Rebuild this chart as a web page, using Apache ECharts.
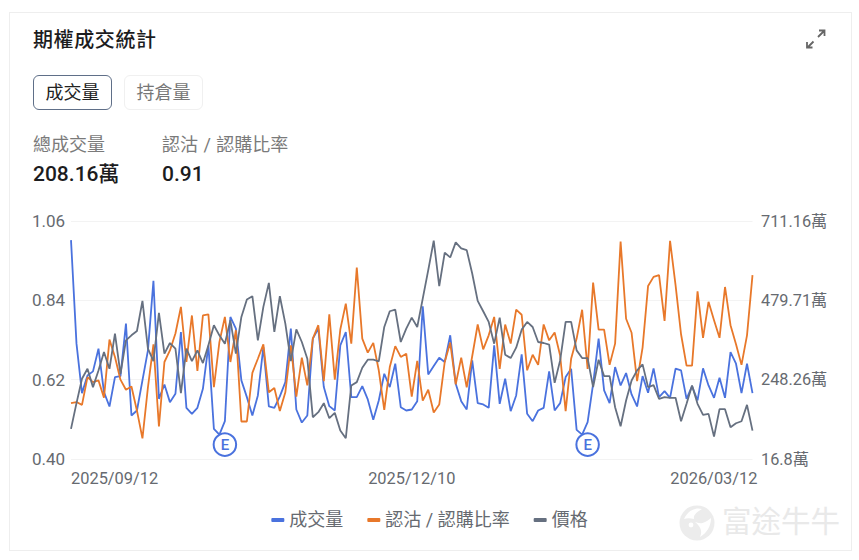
<!DOCTYPE html>
<html lang="zh-Hant">
<head>
<meta charset="utf-8">
<title>期權成交統計</title>
<script src="https://cdn.jsdelivr.net/npm/echarts@6/dist/echarts.min.js"></script>
<style>
  html, body { margin: 0; padding: 0; background: #fff; }
  body { width: 859px; height: 560px; position: relative; overflow: hidden;
         font-family: Roboto, "Noto Sans CJK TC", sans-serif; }
  .card { position: absolute; left: 9px; top: 12px; width: 841px; height: 537px;
          border: 1px solid #eeeeee; }
  #chart { position: absolute; left: 0; top: 0; width: 859px; height: 560px; }
  .abs { position: absolute; white-space: nowrap; }
  .title { left: 33px; top: 25px; font-size: 20px; line-height: 30px; font-weight: 500;
           color: #1c1c1e; letter-spacing: .6px; }
  .tab { top: 75px; height: 33px; line-height: 34px; text-align: center; font-size: 18px;
         border-radius: 6px; box-sizing: content-box; }
  .tab.on { left: 33px; width: 77px; border: 1.5px solid #5f6f88; color: #222; }
  .tab.off { left: 124px; width: 77px; border: 1.5px solid #f0f0f0; color: #777; }
  .lbl { top: 133px; font-size: 18px; line-height: 24px; color: #7a7a7a; word-spacing: 1px; }
  .val { top: 160px; font-size: 21px; line-height: 28px; font-weight: 500; color: #1c1c1e; }
  .brand { left: 722px; top: 503px; font-size: 29.5px; line-height: 38px; color: #e9e9e9; }
</style>
</head>
<body>
<div class="card"></div>
<div id="chart"></div>
<div class="abs title">期權成交統計</div>
<svg class="abs" style="left:804px;top:27px" width="24" height="24" viewBox="0 0 24 24"
     fill="none" stroke="#666" stroke-width="1.8">
  <path d="M14 10 L19.5 4.5 M15 3.5 H20.5 V9"/>
  <path d="M9.5 14.5 L3.5 20.5 M3 15 V20.5 H8.5"/>
</svg>
<div class="abs tab on">成交量</div>
<div class="abs tab off">持倉量</div>
<div class="abs lbl" style="left:33px">總成交量</div>
<div class="abs lbl" style="left:162px">認沽 / 認購比率</div>
<div class="abs val" style="left:33px">208.16萬</div>
<div class="abs val" style="left:162px">0.91</div>
<svg class="abs" style="left:678px;top:504px" width="38" height="38" viewBox="0 0 38 38">
  <circle cx="19" cy="19" r="17.5" fill="#ececec"/>
  <path d="M6 15 C10 6 18 3 24 5 C19 8 15 11 16 15 C12 14 9 14 6 15 Z" fill="#fff"/>
  <path d="M17 18 C22 20 26 20 33 14 C33 22 29 29 22 33 C25 27 22 22 17 18 Z" fill="#fff"/>
  <circle cx="13" cy="21" r="2.4" fill="#fff"/>
</svg>
<div class="abs brand">富途牛牛</div>

<script>
// Daily option statistics, oldest session first.
const holidays = ['2025/11/27', '2025/12/25', '2026/01/01', '2026/01/19', '2026/02/16'];
const firstSession = '2025/09/12';
const lastSession = '2026/03/12';
const dateTicks = ['2025/09/12', '2025/12/10', '2026/03/12'];
const ratioTicks = [0.40, 0.62, 0.84, 1.06];
const volumeTicks = [16.8, 248.26, 479.71, 711.16];
const earningsSessions = [28, 94];
const earningsMarkerLevel = 0.44;

// Total volume, in units of 10,000 contracts.
const volume = [
  655.5, 353.3, 209.0, 260.7, 272.4, 338.7, 211.9, 170.0, 255.8, 258.7,
  411.8, 143.7, 158.3, 246.1, 333.8, 536.6, 192.4, 234.3, 182.7, 207.0,
  387.4, 166.1, 148.6, 166.1, 221.7, 348.4, 104.7, 88.1, 127.1, 431.3,
  397.2, 246.1, 197.3, 143.7, 202.2, 343.5, 170.0, 166.1, 199.3, 241.2,
  397.2, 161.2, 123.2, 143.7, 367.9, 397.2, 226.6, 171.0, 158.3, 348.4,
  387.4, 197.3, 197.3, 229.5, 190.5, 131.0, 187.6, 265.5, 226.6, 294.8,
  168.0, 158.3, 161.2, 185.6, 462.5, 263.6, 288.0, 312.3, 299.7, 377.7,
  236.3, 185.6, 161.2, 304.6, 179.8, 175.9, 166.1, 348.4, 177.8, 250.9,
  156.3, 202.2, 322.1, 148.6, 127.1, 158.3, 166.1, 272.4, 158.3, 179.8,
  255.8, 280.2, 101.8, 88.1, 124.2, 236.3, 367.9, 216.8, 179.8, 285.1,
  231.4, 267.5, 205.1, 170.0, 258.7, 210.0, 281.2, 197.3, 214.9, 195.3,
  280.2, 275.3, 192.4, 229.5, 187.6, 281.2, 231.4, 195.3, 253.9, 195.3,
  328.9, 294.8, 209.0, 294.8, 209.0
];

// Put / call ratio.
const putCallRatio = [
  .555, .558, .550, .627, .613, .618, .570, .731, .683, .620,
  .592, .601, .534, .457, .599, .718, .490, .669, .701, .748,
  .822, .669, .798, .644, .798, .801, .599, .724, .794, .669,
  .757, .504, .504, .639, .678, .718, .585, .597, .533, .585,
  .715, .573, .681, .604, .734, .771, .616, .801, .620, .759,
  .831, .720, .931, .734, .695, .722, .646, .536, .655, .713,
  .683, .692, .573, .672, .562, .592, .529, .551, .669, .723,
  .607, .681, .599, .685, .773, .704, .743, .794, .650, .773,
  .720, .814, .800, .646, .689, .661, .773, .729, .751, .687,
  .533, .678, .734, .814, .650, .889, .759, .759, .661, .720,
  1.003, .789, .750, .616, .709, .880, .905, .910, .783, 1.005,
  .882, .746, .659, .659, .865, .736, .836, .785, .736, .877,
  .771, .718, .661, .743, .91
];

// Underlying price, plotted on its own unlabelled scale.
const price = [
  39.0, 46.7, 54.0, 57.0, 51.5, 56.5, 62.0, 57.0, 67.5, 55.5,
  65.5, 67.0, 68.3, 77.3, 63.0, 59.3, 73.7, 61.5, 64.7, 63.0,
  49.7, 63.0, 59.3, 62.5, 58.7, 64.0, 70.0, 67.0, 64.5, 71.5,
  61.5, 72.5, 77.7, 78.7, 65.5, 75.5, 82.7, 68.0, 78.7, 70.5,
  59.3, 68.8, 65.0, 60.0, 42.5, 44.0, 46.7, 42.2, 43.8, 38.5,
  36.2, 52.0, 53.0, 57.3, 59.7, 59.7, 59.2, 69.5, 74.2, 74.7,
  65.0, 69.0, 72.3, 69.5, 78.0, 86.5, 95.3, 81.7, 91.7, 90.3,
  94.8, 93.0, 92.5, 85.5, 77.3, 74.2, 71.0, 64.5, 72.3, 61.2,
  60.2, 63.3, 68.7, 71.0, 69.5, 65.0, 64.7, 64.2, 52.8, 59.5,
  71.0, 71.0, 62.5, 60.2, 60.2, 51.5, 59.7, 54.8, 54.8, 45.5,
  39.8, 47.5, 53.5, 56.5, 58.3, 51.5, 52.1, 48.0, 48.5, 48.3,
  48.3, 41.3, 46.5, 52.0, 46.5, 43.2, 43.5, 36.7, 44.9, 44.9,
  39.5, 40.7, 41.3, 46.2, 38.5
];

// Weekdays between the first and last session, skipping market holidays.
function tradingDays(start, end, closed) {
  const days = [];
  const day = new Date(start.replace(/\//g, '-') + 'T00:00:00Z');
  const stop = new Date(end.replace(/\//g, '-') + 'T00:00:00Z');
  for (; day <= stop; day.setUTCDate(day.getUTCDate() + 1)) {
    const text = day.toISOString().slice(0, 10).replace(/-/g, '/');
    const weekday = day.getUTCDay();
    if (weekday !== 0 && weekday !== 6 && !closed.includes(text)) days.push(text);
  }
  return days;
}
const sessions = tradingDays(firstSession, lastSession, holidays);

const textColor = '#666a70';
const gridColor = '#f3f3f3';
const fontFamily = 'Roboto, "Noto Sans CJK TC", sans-serif';
const colors = { volume: '#4a72de', ratio: '#e8782a', price: '#667080' };

const line = (name, data, color, yAxisIndex) => ({
  name, data, yAxisIndex, type: 'line', symbol: 'none', smooth: false,
  lineStyle: { color, width: 1.8 }, itemStyle: { color },
  emphasis: { disabled: true }
});

const chart = echarts.init(document.getElementById('chart'), null, { renderer: 'svg' });
chart.setOption({
  animation: false,
  textStyle: { fontFamily },
  legend: {
    left: 'center', top: 506, itemWidth: 13, itemHeight: 4, itemGap: 24,
    icon: 'roundRect',
    textStyle: { fontSize: 18, color: textColor, fontFamily },
    data: ['成交量', '認沽 / 認購比率', '價格']
  },
  grid: { left: 71, right: 106.5, top: 221, height: 238 },
  xAxis: {
    type: 'category', data: sessions, boundaryGap: false,
    axisLine: { show: false }, axisTick: { show: false },
    axisLabel: {
      interval: (i, value) => dateTicks.includes(value),
      alignMinLabel: 'left', alignMaxLabel: 'right', showMinLabel: true, showMaxLabel: true,
      hideOverlap: false,
      formatter: v => (v === lastSession ? '{end|' + v + '}' : v),
      rich: { end: { color: textColor, fontSize: 16.4, fontFamily, padding: [0, -5, 0, 0] } },
      color: textColor, fontSize: 16.4, margin: 11, fontFamily
    }
  },
  yAxis: [
    {
      type: 'value', position: 'left', min: 0.40, max: 1.06,
      axisLine: { show: false },
      axisTick: { show: false, customValues: ratioTicks },
      axisLabel: {
        customValues: ratioTicks, formatter: v => v.toFixed(2),
        align: 'left', margin: 39, color: textColor, fontSize: 17, fontFamily
      },
      splitLine: { show: true, lineStyle: { color: gridColor, width: 1 } }
    },
    {
      type: 'value', position: 'right', min: 16.8, max: 711.16,
      axisLine: { show: false },
      axisTick: { show: false, customValues: volumeTicks },
      axisLabel: {
        customValues: volumeTicks, formatter: v => v + '萬',
        align: 'left', margin: 8.5, color: textColor, fontSize: 16.3, fontFamily
      },
      splitLine: { show: false }
    },
    {
      type: 'value', min: 30, max: 101.2, show: false, splitLine: { show: false }
    }
  ],
  series: [
    line('成交量', volume, colors.volume, 1),
    line('認沽 / 認購比率', putCallRatio, colors.ratio, 0),
    line('價格', price, colors.price, 2),
    {
      name: '財報', type: 'scatter', yAxisIndex: 0, z: 5, silent: true,
      symbol: 'circle', symbolSize: 22.5,
      itemStyle: { color: '#fff', borderColor: colors.volume, borderWidth: 2, opacity: 1 },
      label: {
        show: true, position: 'inside', formatter: 'E',
        color: colors.volume, fontSize: 15, fontWeight: 500, fontFamily
      },
      data: earningsSessions.map(i => [i, earningsMarkerLevel])
    }
  ]
});
</script>
</body>
</html>
